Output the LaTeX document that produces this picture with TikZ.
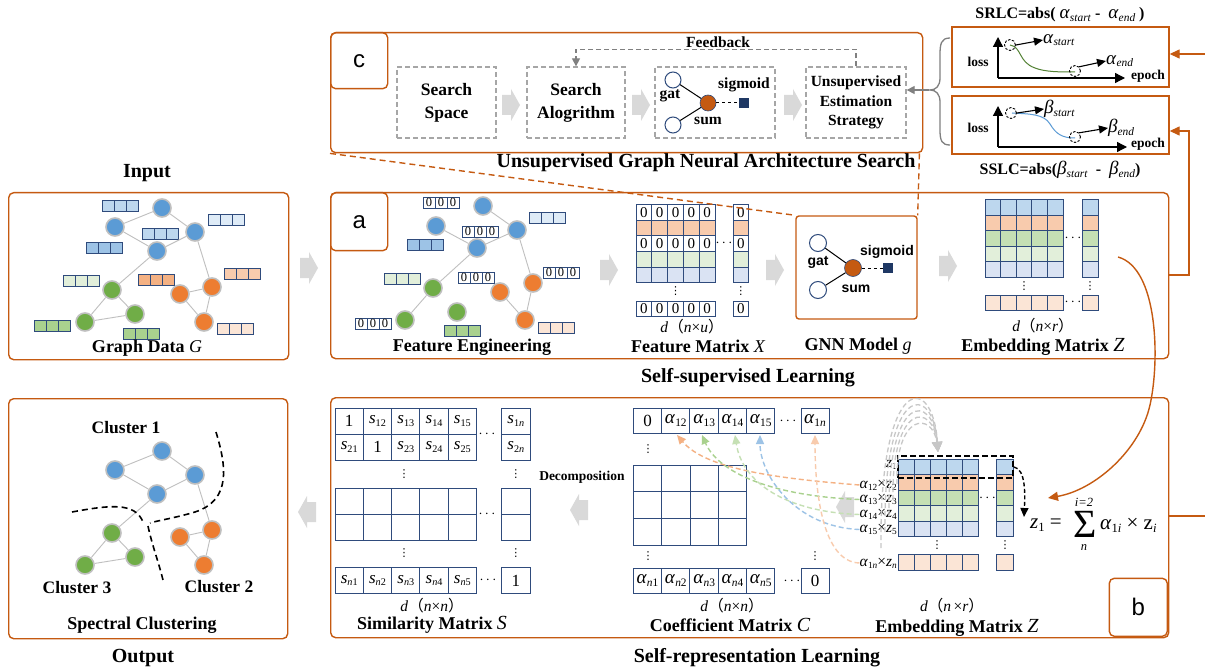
\documentclass[tikz,border=0pt]{standalone}
\usepackage{fontspec}
\setmainfont{Liberation Serif}
\newfontfamily\sansf{Liberation Sans}
\newfontfamily\djv{DejaVu Sans}
\newfontfamily\cjk{Noto Sans CJK SC}
\usetikzlibrary{arrows.meta,calc}
\newcommand{\sbs}[1]{\raisebox{-0.3ex}{\scalebox{0.6}{#1}}}
\newcommand{\al}[1]{\textit{α}\sbs{#1}}
\newcommand{\sv}[1]{\textit{s}\sbs{#1}}
\newcommand{\zv}[1]{\textit{z}\sbs{#1}}
\newcommand{\vdts}{{\djv ⋮}}
\newcommand{\dimlab}[2]{\textit{d}{\cjk （}\textit{#1}×\textit{#2}{\cjk ）}}
\newcommand{\alx}[2]{{\fontsize{19}{19}\selectfont\textit{#1}\sbs{\textit{#2}}}}
\definecolor{frame}{HTML}{C55A11}
\definecolor{navy}{HTML}{2F4B7C}
\definecolor{sqc}{HTML}{1F3864}
\definecolor{nblue}{HTML}{5B9BD5}
\definecolor{ngreen}{HTML}{70AD47}
\definecolor{norange}{HTML}{ED7D31}
\definecolor{nbord}{HTML}{BFBFBF}
\definecolor{arrg}{HTML}{D9D9D9}
\definecolor{dgray}{HTML}{A6A6A6}
\definecolor{cb}{HTML}{BDD7EE}
\definecolor{co}{HTML}{F8CBAD}
\definecolor{cg}{HTML}{C5E0B4}
\definecolor{clg}{HTML}{E2EFDA}
\definecolor{clb}{HTML}{DAE3F3}
\definecolor{clo}{HTML}{FBE5D6}
\definecolor{cmb}{HTML}{9DC3E6}
\definecolor{cvlb}{HTML}{DEEBF7}
\definecolor{cdo}{HTML}{F4B183}
\definecolor{cdg}{HTML}{A9D18E}
\definecolor{curvg}{HTML}{548235}
\newcommand{\vecb}[3]{\foreach \k in {0,1,2}{\draw[cellv,fill=#3] ({#1+12*\k},#2) rectangle ++(12,11.5);}}
\newcommand{\vecz}[2]{\foreach \k in {0,1,2}{\draw[cellv,fill=white] ({#1+12*\k},#2) rectangle ++(12,11.5) node[midway,font=\fontsize{12.5}{12.5}\selectfont,inner sep=0pt]{0};}}
\newcommand{\fullgraph}[1]{%
 \node[bnode] (#1b1) at (162,208) {};
 \node[bnode] (#1b2) at (115,227) {};
 \node[bnode] (#1b3) at (195,232) {};
 \node[bnode] (#1b4) at (157,251) {};
 \node[gnode] (#1g1) at (112,290) {};
 \node[gnode] (#1g2) at (135,314) {};
 \node[gnode] (#1g3) at (85,322) {};
 \node[onode] (#1o1) at (180,294) {};
 \node[onode] (#1o2) at (212,287) {};
 \node[onode] (#1o3) at (204,322) {};
 \draw[gedge] (#1b1)--(#1b2) (#1b1)--(#1b3) (#1b2)--(#1b4) (#1b3)--(#1b4) (#1b4)--(#1g1)
   (#1b3)--(#1o2) (#1g1)--(#1g2) (#1g1)--(#1g3) (#1g3)--(#1g2) (#1o1)--(#1o2) (#1o1)--(#1o3) (#1o2)--(#1o3);
}
\begin{document}
\begin{tikzpicture}[x=1pt,y=-1pt,
 panel/.style={draw=frame,line width=1.4pt,rounded corners=5pt,inner sep=0pt},
 sharpbox/.style={draw=frame,line width=1.4pt,inner sep=0pt},
 tag/.style={draw=frame,line width=1.4pt,rounded corners=5pt,inner sep=0pt,font=\sansf\fontsize{24}{24}\selectfont},
 ttl/.style={font=\bfseries\fontsize{20}{22}\selectfont,inner sep=0pt},
 lbl/.style={font=\bfseries\fontsize{18}{20}\selectfont,inner sep=0pt},
 dimt/.style={font=\fontsize{15.5}{16}\selectfont,inner sep=0pt},
 gnd/.style={circle,draw=nbord,line width=1.6pt,minimum size=18pt,inner sep=0pt},
 bnode/.style={gnd,fill=nblue}, gnode/.style={gnd,fill=ngreen}, onode/.style={gnd,fill=norange},
 gedge/.style={draw=nbord,line width=0.9pt},
 cellv/.style={draw=navy,line width=0.9pt},
 mcell/.style={draw=navy,line width=1pt},
 dig/.style={font=\fontsize{15}{15}\selectfont,inner sep=0pt},
 vd/.style={font=\fontsize{11}{11}\selectfont,inner sep=0pt},
 bigtxt/.style={font=\fontsize{17}{17}\selectfont,inner sep=0pt},
 albl/.style={font=\fontsize{15.5}{15.5}\selectfont,inner sep=0pt,anchor=east},
 dbox/.style={draw=dgray,line width=1.3pt,dash pattern=on 5pt off 3pt,inner sep=0pt},
 gcirc/.style={circle,draw=navy,fill=white,line width=1pt,minimum size=17pt,inner sep=0pt},
 gorg/.style={circle,draw=navy,fill=frame,line width=0.6pt,minimum size=17pt,inner sep=0pt},
 gsq/.style={rectangle,fill=sqc,minimum size=10pt,inner sep=0pt},
 sanslbl/.style={font=\sansf\bfseries\fontsize{14}{14}\selectfont,inner sep=0pt},
 serlbl/.style={font=\bfseries\fontsize{15.5}{15.5}\selectfont,inner sep=0pt},
 odash/.style={draw=frame,line width=1.4pt,dash pattern=on 6pt off 4pt},
 oarr/.style={draw=frame,line width=1.4pt,-{Triangle[length=10pt,width=9pt]}},
 garrow/.style={draw=gray,line width=1.3pt,-{Triangle[length=8pt,width=8pt]}},
 axisarr/.style={draw=black,line width=1.3pt,-{Triangle[length=10pt,width=10pt]}},
 sarr/.style={draw=black,line width=1.1pt,-{Triangle[length=9pt,width=8pt]}},
 dcirc/.style={circle,draw=black,dash pattern=on 2.5pt off 1.5pt,line width=0.9pt,minimum size=11pt,inner sep=0pt},
 cdash/.style={draw=black,line width=1.6pt,dash pattern=on 6pt off 4pt},
 coldash/.style={line width=1.4pt,dash pattern=on 5pt off 3pt,-{Triangle[length=9pt,width=8pt]}},
 garc/.style={draw=black!22,line width=1.3pt,dash pattern=on 5pt off 3pt,-{Triangle[length=10pt,width=10pt]}},
 garr/.pic={\fill[arrg] (-9,-10) -- (0,-10) -- (0,-16) -- (9,0) -- (0,16) -- (0,10) -- (-9,10) -- cycle;}
]
\useasboundingbox (0,0) rectangle (1205,671);
\fill[white] (0,0) rectangle (1205,671);

% ---------------- panels
\node[panel,anchor=north west,minimum width=280pt,minimum height=167pt] (pin) at (8,192) {};
\node[panel,anchor=north west,minimum width=838pt,minimum height=166pt] (pa) at (330,192) {};
\node[panel,anchor=north west,minimum width=592pt,minimum height=120pt] (pc) at (330,32) {};
\node[panel,anchor=north west,minimum width=279pt,minimum height=240pt] (pout) at (8,398) {};
\node[panel,anchor=north west,minimum width=838pt,minimum height=240pt] (pb) at (330,397) {};
\node[tag,anchor=north west,minimum width=57pt,minimum height=56pt] (tc) at (330,32) {c};
\node[tag,anchor=north west,minimum width=57pt,minimum height=58pt] (ta) at (330,192) {a};
\node[tag,anchor=south east,minimum width=58pt,minimum height=58pt] (tb) at (1168,637) {b};

\node[ttl] (tin) at (147,173) {Input};
\node[ttl] (tout) at (143,658) {Output};
\node[ttl] (tss) at (748,378) {Self-supervised Learning};
\node[ttl] (tsr) at (757,658) {Self-representation Learning};
\node[ttl] (tug) at (706,163) {Unsupervised Graph Neural Architecture Search};

% ---------------- grey block arrows
\pic at (309,268) {garr};
\pic at (609,270) {garr};
\pic at (775,270) {garr};
\pic at (948,266) {garr};
\pic at (511,105) {garr};
\pic at (641,105) {garr};
\pic at (793,105) {garr};
\pic[xscale=-1] at (307,512) {garr};
\pic[xscale=-1] at (579,510) {garr};
\pic[xscale=-1] at (845,507) {garr};

% ---------------- input graph
\vecb{102}{200}{cb}
\vecb{208}{214}{cvlb}
\vecb{142}{228}{cb}
\vecb{86}{242}{cmb}
\vecb{63}{275}{clg}
\vecb{138}{274}{cdo}
\vecb{224}{268}{co}
\vecb{34}{320}{cdg}
\vecb{123}{328}{cdg}
\vecb{217}{323}{clo}
\fullgraph{i}
\node[lbl] (lgd) at (147,348) {Graph Data {\mdseries\itshape G}};

% ---------------- output graph
\begin{scope}[shift={(0,243)}]
\fullgraph{o}
\end{scope}
\draw[cdash] (216,432) .. controls (226,465) and (232,500) .. (195,512) .. controls (175,518) and (160,520) .. (150,523);
\draw[cdash] (148,526) .. controls (152,545) and (158,560) .. (163,580);
\draw[cdash] (72,512) .. controls (110,505) and (135,502) .. (143,522);
\node[lbl,font=\bfseries\fontsize{17.5}{18}\selectfont] (cl1) at (126,428) {Cluster 1};
\node[lbl,font=\bfseries\fontsize{17.5}{18}\selectfont] (cl3) at (77,588) {Cluster 3};
\node[lbl,font=\bfseries\fontsize{17.5}{18}\selectfont] (cl2) at (219,587) {Cluster 2};
\node[lbl] (lsc) at (142,625) {Spectral Clustering};

% ---------------- panel a : feature engineering graph
\vecz{423}{197}
\vecb{529}{212}{cvlb}
\vecz{462}{226}
\vecb{407}{239}{cmb}
\vecb{384}{273}{clg}
\vecz{458}{272}
\vecz{543}{267}
\vecz{355}{318}
\vecb{444}{325}{cdg}
\vecb{538}{322}{clo}
\node[bnode] (ab1) at (483,206) {};
\node[bnode] (ab2) at (436,226) {};
\node[bnode] (ab3) at (517,230) {};
\node[bnode] (ab4) at (477,248) {};
\node[gnode] (ag1) at (433,288) {};
\node[gnode] (ag2) at (405,320) {};
\node[gnode] (ag3) at (457,312) {};
\node[onode] (ao1) at (500,292) {};
\node[onode] (ao2) at (533,283) {};
\node[onode] (ao3) at (525,320) {};
\draw[gedge] (ab1)--(ab3) (ab2)--(ab4) (ab3)--(ab4) (ab4)--(ag1) (ag1)--(ag2) (ab3)--(ao2) (ao1)--(ao3) (ao2)--(ao3);
\node[lbl] (lfe) at (472,347) {Feature Engineering};

% ---------------- feature matrix X
\foreach \r/\f in {0/white,1/co,2/white,3/clg,4/clb}{
  \foreach \c in {0,...,4}{\draw[mcell,fill=\f] ({636+15.8*\c},{205+15.5*\r}) rectangle ++(15.8,15.5);}
  \draw[mcell,fill=\f] (733,{205+15.5*\r}) rectangle ++(15.5,15.5);
}
\foreach \c in {0,...,4}{\draw[mcell,fill=white] ({636+15.8*\c},301) rectangle ++(15.8,15.5);}
\draw[mcell,fill=white] (733,301) rectangle ++(15.5,15.5);
\foreach \r in {0,2}{
  \foreach \c in {0,...,4}{\node[dig] (fx\r\c) at ({643.9+15.8*\c},{212.75+15.5*\r}) {0};}
  \node[dig] (fxr\r) at (740.75,{212.75+15.5*\r}) {0};
}
\foreach \c in {0,...,4}{\node[dig] (fxb\c) at ({643.9+15.8*\c},308.75) {0};}
\node[dig] (fxbr) at (740.75,308.75) {0};
\node[dig] (fxd1) at (724,243) {$\cdots$};
\node[vd] (fxd2) at (675.5,291) {\vdts};
\node[vd] (fxd3) at (740.75,291) {\vdts};
\node[dimt] (fxdim) at (692,327) {\dimlab{n}{u}};
\node[lbl] (fxl) at (698,346) {Feature Matrix {\mdseries\itshape X}};

% ---------------- GNN model (panel a)
\node[panel,rounded corners=3pt,minimum width=121pt,minimum height=103pt] (gnna) at (856.5,267.5) {};
\node[gcirc] (ga1) at (818,243) {};
\node[gcirc] (ga2) at (818,290) {};
\node[gorg] (gao) at (853,268) {};
\node[gsq] (gas) at (888,268) {};
\draw[line width=1pt] (ga1) -- (gao) (ga2) -- (gao);
\draw[line width=1pt,dashed] (gao) -- (gas);
\node[sanslbl] (gat1) at (818,262) {gat};
\node[sanslbl] (sum1) at (856,289) {sum};
\node[sanslbl] (sig1) at (887,252) {sigmoid};
\node[lbl] (lgnn) at (858,346) {GNN Model {\mdseries\itshape g}};
\draw[odash] (pc.south west) -- (gnna.north west);
\draw[odash] ([xshift=-4pt]pc.south east) -- (gnna.north east);

% ---------------- embedding matrix Z (panel a)
\foreach \r/\f in {0/cb,1/co,2/cg,3/clg,4/clb}{
  \foreach \c in {0,...,4}{\draw[mcell,fill=\f] ({985+15.6*\c},{200+15.5*\r}) rectangle ++(15.6,15.5);}
  \draw[mcell,fill=\f] (1082,{200+15.5*\r}) rectangle ++(16,15.5);
}
\foreach \c in {0,...,4}{\draw[mcell,fill=clo] ({985+15.6*\c},295) rectangle ++(15.6,15.5);}
\draw[mcell,fill=clo] (1082,295) rectangle ++(16,15.5);
\node[dig] (zd1) at (1073,238) {$\cdots$};
\node[dig] (zd2) at (1073,302.5) {$\cdots$};
\node[vd] (zd3) at (1024,286) {\vdts};
\node[vd] (zd4) at (1090,286) {\vdts};
\node[dimt] (zdim) at (1043,326) {\dimlab{n}{r}};
\node[lbl] (zl) at (1043,347) {Embedding Matrix {\mdseries\itshape\fontsize{20}{20}\selectfont Z}};
\coordinate (zs) at (1118,257);

% ---------------- panel c
\node[dbox,minimum width=99pt,minimum height=71pt,align=center,font=\bfseries\fontsize{17.5}{23}\selectfont] (ss) at (446.5,102.5) {Search\\Space};
\node[dbox,minimum width=98pt,minimum height=71pt,align=center,font=\bfseries\fontsize{17.5}{23}\selectfont] (sa) at (576,102.5) {Search\\Alogrithm};
\node[dbox,minimum width=120pt,minimum height=71pt] (gc) at (715,102.5) {};
\node[dbox,minimum width=100pt,minimum height=71pt,align=center,font=\bfseries\fontsize{15.5}{19.5}\selectfont] (us) at (856,102.5) {Unsupervised\\Estimation\\Strategy};
\draw[garrow,dash pattern=on 5pt off 3pt] (us.north) -- ++(0,-17) -| (sa.north);
\node[serlbl] (fbk) at (718,42) {Feedback};
\node[gcirc,minimum size=16pt] (gc1) at (673,80) {};
\node[gcirc,minimum size=16pt] (gc2) at (673,125) {};
\node[gorg,minimum size=16pt] (gco) at (708,103) {};
\node[gsq] (gcs) at (744,103) {};
\draw[line width=1pt] (gc1) -- (gco) (gc2) -- (gco);
\draw[line width=1pt,dashed] (gco) -- (gcs);
\node[serlbl] (gat2) at (670,96) {gat};
\node[serlbl] (sum2) at (708,121) {sum};
\node[serlbl] (sig2) at (744,85) {sigmoid};

% brace
\draw[draw=gray,line width=1.3pt] (950,38) .. controls (941,38) and (940,44) .. (940,55) -- (940,78) .. controls (940,86) and (936,90) .. (930,90) .. controls (936,90) and (940,94) .. (940,102) -- (940,130) .. controls (940,141) and (942,145) .. (950,145);
\coordinate (brt) at (929,90);
\draw[garrow] (brt) -- (brt -| us.east);

% ---------------- SRLC / SSLC
\node[sharpbox,minimum width=217pt,minimum height=60pt] (srlc) at (1060.5,57) {};
\node[sharpbox,minimum width=217pt,minimum height=58pt] (sslc) at (1060.5,125) {};
\node[inner sep=0pt,font=\fontsize{16}{18}\selectfont] (srt) at (1060,15) {\textbf{SRLC=abs(}\ \alx{α}{start}\ \textbf{-}\ \ \alx{α}{end}\ \textbf{)}};
\node[inner sep=0pt,font=\fontsize{16}{18}\selectfont] (sst) at (1060,170) {\textbf{SSLC=abs(}\alx{β}{start}\ \ \textbf{-}\ \ \alx{β}{end}\textbf{)}};
\coordinate (ax1) at (998,78);
\draw[axisarr] (ax1) -- (998,37);
\draw[axisarr] (ax1) -- (1125,78);
\coordinate (ax2) at (998,147);
\draw[axisarr] (ax2) -- (998,106);
\draw[axisarr] (ax2) -- (1127,147);
\node[inner sep=0pt,font=\bfseries\fontsize{13.5}{14}\selectfont] (ls1) at (978,62) {loss};
\node[inner sep=0pt,font=\bfseries\fontsize{13.5}{14}\selectfont] (ls2) at (978,128) {loss};
\node[inner sep=0pt,font=\bfseries\fontsize{13.5}{14}\selectfont] (ep1) at (1148,76) {epoch};
\node[inner sep=0pt,font=\bfseries\fontsize{13.5}{14}\selectfont] (ep2) at (1148,144) {epoch};
\draw[curvg,line width=1pt] (1010,45) .. controls (1022,47) and (1018,62) .. (1035,68) .. controls (1045,72) and (1060,72) .. (1075,72);
\draw[nblue,line width=1pt] (1012,113) .. controls (1030,114) and (1044,114) .. (1050,124) .. controls (1056,134) and (1062,138) .. (1075,138);
\node[dcirc] (c1) at (1010,45) {};
\node[dcirc] (c2) at (1075,71) {};
\node[dcirc] (c3) at (1011,113) {};
\node[dcirc] (c4) at (1075,137) {};
\node[inner sep=0pt,anchor=west] (as) at (1043,40) {\alx{α}{start}};
\node[inner sep=0pt,anchor=west] (ae) at (1106,61) {\alx{α}{end}};
\node[inner sep=0pt,anchor=west] (bs) at (1044,109) {\alx{β}{start}};
\node[inner sep=0pt,anchor=west] (bee) at (1108,128) {\alx{β}{end}};
\draw[sarr] (c1.east) -- (as.west);
\draw[sarr] (c2.north east) -- (ae.west);
\draw[sarr] (c3.east) -- (bs.west);
\draw[sarr] (c4.north east) -- (bee.west);

% orange connectors on right
\coordinate (inR) at (1205,54);
\draw[oarr] (inR) -- (inR -| srlc.east);
\coordinate (paR) at (1168,275);
\draw[oarr] (paR) -- ++(21,0) |- ([yshift=-6pt]sslc.east);
\coordinate (pbR) at (1205,516);
\draw[draw=frame,line width=1.4pt] (pb.east |- pbR) -- (pbR);

% ---------------- similarity matrix S
\foreach \y/\h in {408/26,434/26,488/26,514/26.5,567.5/26}{
  \foreach \c in {0,...,4}{\draw[mcell] ({335+28.3*\c},\y) rectangle ++(28.3,\h);}
  \draw[mcell] (501.7,\y) rectangle ++(28.3,\h);
}
\node[bigtxt] (s11) at (349.2,421) {1};
\node[bigtxt] (s12) at (377.5,421) {\sv{12}};
\node[bigtxt] (s13) at (405.8,421) {\sv{13}};
\node[bigtxt] (s14) at (434.1,421) {\sv{14}};
\node[bigtxt] (s15) at (462.4,421) {\sv{15}};
\node[bigtxt] (s1n) at (515.9,421) {\sv{1\textit{n}}};
\node[bigtxt] (s21) at (349.2,447) {\sv{21}};
\node[bigtxt] (s22) at (377.5,447) {1};
\node[bigtxt] (s23) at (405.8,447) {\sv{23}};
\node[bigtxt] (s24) at (434.1,447) {\sv{24}};
\node[bigtxt] (s25) at (462.4,447) {\sv{25}};
\node[bigtxt] (s2n) at (515.9,447) {\sv{2\textit{n}}};
\node[bigtxt] (sn1) at (349.2,580.5) {\sv{\textit{n}1}};
\node[bigtxt] (sn2) at (377.5,580.5) {\sv{\textit{n}2}};
\node[bigtxt] (sn3) at (405.8,580.5) {\sv{\textit{n}3}};
\node[bigtxt] (sn4) at (434.1,580.5) {\sv{\textit{n}4}};
\node[bigtxt] (sn5) at (462.4,580.5) {\sv{\textit{n}5}};
\node[bigtxt] (snn) at (515.9,580.5) {1};
\node[dig] (sd1) at (487,434) {$\cdots$};
\node[dig] (sd2) at (487,514) {$\cdots$};
\node[dig] (sd3) at (488,580) {$\cdots$};
\node[vd] (sd4) at (404,474) {\vdts};
\node[vd] (sd5) at (515.9,474) {\vdts};
\node[vd] (sd6) at (404,553) {\vdts};
\node[vd] (sd7) at (515.9,553) {\vdts};
\node[dimt] (sdim) at (432,606) {\dimlab{n}{n}};
\node[lbl] (sl) at (432,625) {Similarity Matrix {\mdseries\itshape\fontsize{20}{20}\selectfont S}};
\node[inner sep=0pt,font=\bfseries\fontsize{13.5}{14}\selectfont] (dec) at (582,477) {Decomposition};

% ---------------- coefficient matrix C
\foreach \c in {0,...,4}{\draw[mcell] ({633.3+28.3*\c},408) rectangle ++(28.3,25);}
\draw[mcell] (801,408) rectangle ++(28,25);
\foreach \r in {0,1,2}{\foreach \c in {0,...,3}{\draw[mcell] ({633.3+28.4*\c},{465+26.7*\r}) rectangle ++(28.4,26.7);}}
\foreach \c in {0,...,4}{\draw[mcell] ({633.3+28.3*\c},568) rectangle ++(28.3,25);}
\draw[mcell] (801,568) rectangle ++(28,25);
\node[bigtxt] (c11) at (647.5,420.5) {0};
\node[bigtxt,font=\fontsize{19}{19}\selectfont] (ca2) at (675.8,420.5) {\al{12}};
\node[bigtxt,font=\fontsize{19}{19}\selectfont] (ca3) at (704.1,420.5) {\al{13}};
\node[bigtxt,font=\fontsize{19}{19}\selectfont] (ca4) at (732.4,420.5) {\al{14}};
\node[bigtxt,font=\fontsize{19}{19}\selectfont] (ca5) at (760.7,420.5) {\al{15}};
\node[bigtxt,font=\fontsize{19}{19}\selectfont] (can) at (815,420.5) {\al{1\textit{n}}};
\node[bigtxt,font=\fontsize{19}{19}\selectfont] (cn1) at (647.5,580.5) {\al{\textit{n}1}};
\node[bigtxt,font=\fontsize{19}{19}\selectfont] (cn2) at (675.8,580.5) {\al{\textit{n}2}};
\node[bigtxt,font=\fontsize{19}{19}\selectfont] (cn3) at (704.1,580.5) {\al{\textit{n}3}};
\node[bigtxt,font=\fontsize{19}{19}\selectfont] (cn4) at (732.4,580.5) {\al{\textit{n}4}};
\node[bigtxt,font=\fontsize{19}{19}\selectfont] (cn5) at (760.7,580.5) {\al{\textit{n}5}};
\node[bigtxt] (cnn) at (815,580.5) {0};
\node[dig] (cd1) at (788,421) {$\cdots$};
\node[dig] (cd2) at (792,581) {$\cdots$};
\node[vd] (cd3) at (648,449) {\vdts};
\node[vd] (cd4) at (648,556) {\vdts};
\node[vd] (cd5) at (815,556) {\vdts};
\node[dimt] (cdim) at (732,606) {\dimlab{n}{n}};
\node[lbl] (cl) at (730,625) {Coefficient Matrix {\mdseries\itshape\fontsize{20}{20}\selectfont C}};
\coordinate (cb2) at (677,435);
\coordinate (cb3) at (702,435);
\coordinate (cb4) at (735,435);
\coordinate (cb5) at (760,435);
\coordinate (cbn) at (815,435);

% ---------------- embedding matrix Z (panel b)
\foreach \c in {0,...,4}{\draw[mcell,fill=cb] ({898.3+16*\c},459) rectangle ++(16,16);}
\draw[mcell,fill=cb] (996.7,459) rectangle ++(16.3,16);
\foreach \r/\f in {1/co,2/cg,3/clg,4/clb}{
  \foreach \c in {0,...,4}{\draw[mcell,fill=\f] ({898.3+16*\c},{459+15.5*\r}) rectangle ++(16,15.5);}
  \draw[mcell,fill=\f] (996.7,{459+15.5*\r}) rectangle ++(16.3,15.5);
}
\foreach \c in {0,...,4}{\draw[mcell,fill=clo] ({898.3+16*\c},554) rectangle ++(16,16);}
\draw[mcell,fill=clo] (996.7,554) rectangle ++(16.3,16);
\node[dig] (bd1) at (987.5,498) {$\cdots$};
\node[vd] (bd2) at (937,545) {\vdts};
\node[vd] (bd3) at (1005,545) {\vdts};
\node[draw=black,line width=1.6pt,dash pattern=on 6pt off 3pt,minimum width=115pt,minimum height=22pt,inner sep=0pt] (zbox) at (955.6,467) {};
\node[albl] (lz1) at (897,465) {\zv{1}};
\node[albl] (l2) at (897,485) {\al{12}×\zv{2}};
\node[albl] (l3) at (897,499.5) {\al{13}×\zv{3}};
\node[albl] (l4) at (897,514.5) {\al{14}×\zv{4}};
\node[albl] (l5) at (897,529.5) {\al{15}×\zv{5}};
\node[albl] (ln) at (897,563) {\al{1\textit{n}}×\zv{\textit{n}}};
\node[dimt] (bdim) at (952,606) {\dimlab{n\,}{r}};
\node[lbl] (bzl) at (957,628) {Embedding Matrix {\mdseries\itshape\fontsize{20}{20}\selectfont Z}};

% grey arcs
\foreach \k in {0,...,4}{
  \draw[garc] ({881+4*\k},{548-16*\k}) .. controls ({879+4*\k},{372+10*\k}) and (933,{372+10*\k}) .. (938,452);
}
% coloured dashed arrows
\draw[coldash,draw=cdo] (l2.west) .. controls (770,478) and (705,468) .. (cb2);
\draw[coldash,draw=cdg] (l3.west) .. controls (770,496) and (718,472) .. (cb3);
\draw[coldash,draw=cg] (l4.west) .. controls (785,512) and (742,482) .. (cb4);
\draw[coldash,draw=cmb] (l5.west) .. controls (795,527) and (760,475) .. (cb5);
\draw[coldash,draw=co] (ln.west) .. controls (822,562) and (815,490) .. (cbn);

% formula
\node[inner sep=0pt,anchor=west,font=\fontsize{21}{21}\selectfont] (fz) at (1030,525) {\zv{1} =};
\node[inner sep=0pt,font=\fontsize{40}{40}\selectfont] (fsig) at (1085,524) {Σ};
\node[inner sep=0pt,font=\itshape\fontsize{12.5}{12.5}\selectfont] (fsup) at (1084,502) {i=2};
\node[inner sep=0pt,font=\itshape\fontsize{12.5}{12.5}\selectfont] (fsub) at (1084,548) {n};
\node[inner sep=0pt,anchor=west,font=\fontsize{21}{21}\selectfont] (frest) at (1100,525) {\al{1\textit{i}} × z\sbs{\textit{i}}};
\draw[line width=1.4pt,dash pattern=on 4pt off 2.5pt,-{Triangle[length=9pt,width=8pt]}] (zbox.east) .. controls (1026,469) and (1025,495) .. (1024,517);

% orange curve from Z to formula
\coordinate (ze) at (1048,498);
\draw[oarr] (zs) .. controls (1158,268) and (1160,360) .. (1150,405) .. controls (1140,450) and (1095,490) .. (ze);
\end{tikzpicture}
\end{document}
